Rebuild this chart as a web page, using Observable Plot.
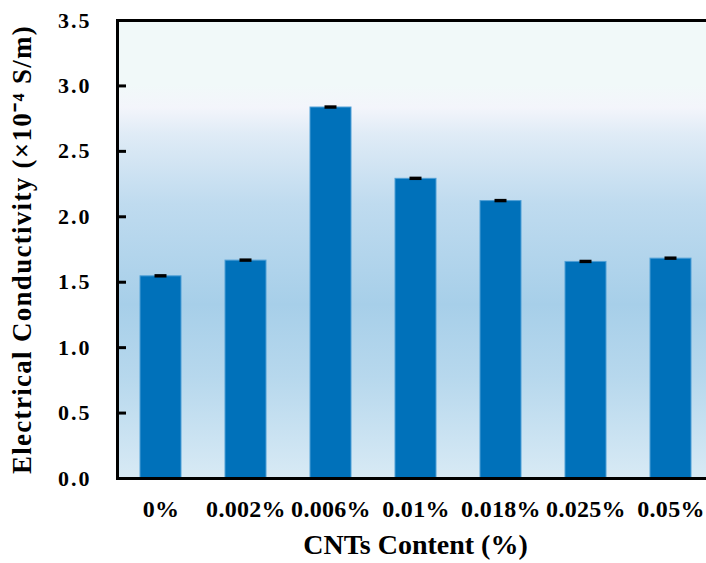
<!DOCTYPE html>
<html>
<head>
<meta charset="utf-8">
<script src="https://cdn.jsdelivr.net/npm/d3@7"></script>
<script src="https://cdn.jsdelivr.net/npm/@observablehq/plot@0.6"></script>
<style>
  html, body { margin: 0; padding: 0; background: #fff; overflow: hidden; }
  #chart svg { font-family: "Liberation Serif", "Times New Roman", serif; font-weight: bold; max-width: none !important; }
</style>
</head>
<body>
<div id="chart"></div>
<script>
const categories = ["0%", "0.002%", "0.006%", "0.01%", "0.018%", "0.025%", "0.05%"];
const values = [1.545, 1.665, 2.835, 2.29, 2.12, 1.655, 1.68];
const errors = [0.013, 0.013, 0.013, 0.013, 0.013, 0.013, 0.013];
const yTicks = [0, 0.5, 1.0, 1.5, 2.0, 2.5, 3.0, 3.5];
const innerTicks = [0.5, 1.0, 1.5, 2.0, 2.5, 3.0];

const data = categories.map((c, i) => ({cat: c, v: values[i], e: errors[i]}));

const gradientStops = [
  [0.00, "#f1f9f9"],
  [0.14, "#f1f9f9"],
  [0.19, "#f3f5fb"],
  [0.25, "#dfebf6"],
  [0.40, "#bfdbef"],
  [0.62, "#a7cfe9"],
  [0.78, "#b7d8ed"],
  [1.00, "#d8eaf5"]
];

const defs = () => {
  const d = d3.create("svg:defs");
  const g = d.append("linearGradient").attr("id", "bgGrad")
    .attr("x1", 0).attr("y1", 0).attr("x2", 0).attr("y2", 1);
  gradientStops.forEach(([o, c]) => g.append("stop").attr("offset", o).attr("stop-color", c));
  return d.node();
};

const chart = Plot.plot({
  width: 720,
  height: 563,
  marginLeft: 117,
  marginRight: 7,
  marginTop: 20,
  marginBottom: 85,
  style: {maxWidth: "none", width: "720px", overflow: "visible"},
  x: {domain: categories, paddingInner: 0.52, paddingOuter: 0.26},
  y: {domain: [0, 3.5]},
  marks: [
    defs,
    Plot.frame({fill: "url(#bgGrad)"}),
    Plot.barY(data, {x: "cat", y: "v", fill: "#0071ba", stroke: "#4f9fd6", strokeWidth: 1}),
    Plot.barY(data, {x: "cat", y1: d => d.v - d.e, y2: d => d.v + d.e, fill: "#000", insetLeft: 14.5, insetRight: 14.5}),
    Plot.tickY(innerTicks, {y: d => d, stroke: "#000", strokeWidth: 3, insetRight: 587}),
    Plot.frame({stroke: "#000", strokeWidth: 3}),
    Plot.axisY({ticks: yTicks, tickSize: 0, tickPadding: 26, fontSize: 22, fontWeight: "bold",
      tickFormat: d3.format(".1f"), label: null}),
    Plot.axisY({ticks: [], tickSize: 0, fontSize: 27, fontWeight: "bold",
      label: "Electrical Conductivity (×10⁻⁴ S/m)", labelAnchor: "center", labelArrow: "none", labelOffset: 106}),
    Plot.axisX({tickSize: 0, tickPadding: 21, fontSize: 24, fontWeight: "bold", label: null}),
    Plot.axisX({ticks: [], tickSize: 0, fontSize: 28, fontWeight: "bold",
      label: "CNTs Content (%)", labelAnchor: "center", labelArrow: "none", labelOffset: 75})
  ]
});
const s = d3.select(chart);
s.selectAll('g[aria-label="y-axis tick label"] text').style("letter-spacing", "2px");
s.selectAll('g[aria-label="x-axis tick label"] text').style("letter-spacing", "0.3px");
s.selectAll('g[aria-label="y-axis label"] text').style("letter-spacing", "1.3px");
document.getElementById("chart").appendChild(chart);
</script>
</body>
</html>
